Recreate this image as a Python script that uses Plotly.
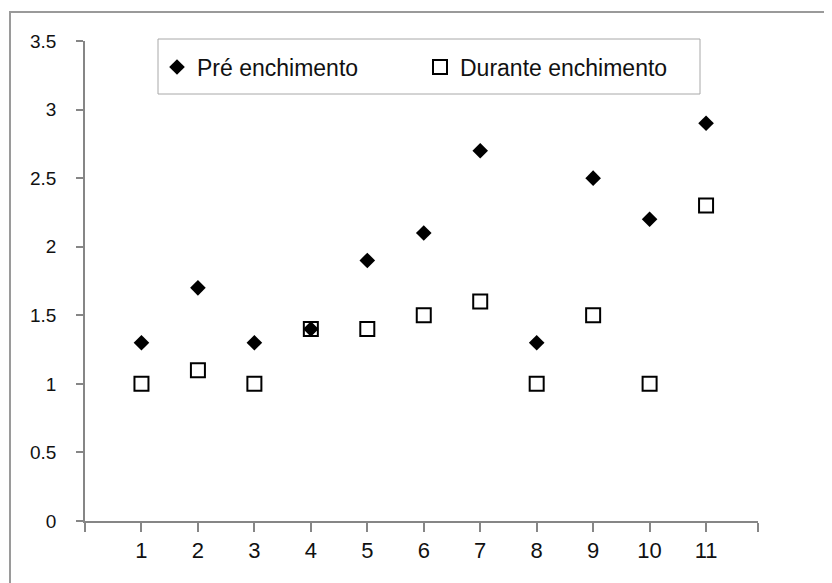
import plotly.graph_objects as go

x_vals = [1, 2, 3, 4, 5, 6, 7, 8, 9, 10, 11]
pre_enchimento = [1.3, 1.7, 1.3, 1.4, 1.9, 2.1, 2.7, 1.3, 2.5, 2.2, 2.9]
durante_enchimento = [1.0, 1.1, 1.0, 1.4, 1.4, 1.5, 1.6, 1.0, 1.5, 1.0, 2.3]
x_max = 11.92
x_tickvals = [0, 1, 2, 3, 4, 5, 6, 7, 8, 9, 10, 11, x_max]
x_ticktext = ["", "1", "2", "3", "4", "5", "6", "7", "8", "9", "10", "11", ""]
y_tickvals = [0, 0.5, 1, 1.5, 2, 2.5, 3, 3.5]
y_ticktext = ["0", "0.5", "1", "1.5", "2", "2.5", "3", "3.5"]

# page has an 8px body margin, so the figure is drawn 8px right/down
OFF = 8
W, H = 832 - OFF, 583 - OFF
PX0, PX1, PY0, PY1 = 85, 758, 41, 521  # plot area in screen pixels
L, T = PX0 - OFF, PY0 - OFF
pw, ph = PX1 - PX0, PY1 - PY0
R, B = W - L - pw, H - T - ph


def px(xs):
    return (xs - PX0) / pw


def py(ys):
    return (PY1 - ys) / ph


FONT = "Arial, Liberation Sans, sans-serif"
TXT = "#111111"

fig = go.Figure()
fig.add_trace(go.Scatter(
    x=x_vals, y=pre_enchimento, mode="markers", name="Pré enchimento",
    marker=dict(symbol="diamond", size=12, color="black", line=dict(width=0)),
))
fig.add_trace(go.Scatter(
    x=x_vals, y=durante_enchimento, mode="markers", name="Durante enchimento",
    marker=dict(symbol="square-open", size=14, color="black", line=dict(width=2, color="black")),
))

border_path = "M {a},{b} L {a},{c} L {d},{c}".format(
    a=px(10), b=py(650), c=py(12), d=px(900))

fig.update_layout(
    width=W, height=H,
    margin=dict(l=L, r=R, t=T, b=B, autoexpand=False),
    paper_bgcolor="white", plot_bgcolor="white",
    font=dict(family=FONT, color=TXT),
    showlegend=True,
    legend=dict(
        orientation="h", x=px(157), y=py(67), xanchor="left", yanchor="middle",
        font=dict(family=FONT, size=23, color=TXT),
        bgcolor="rgba(0,0,0,0)", borderwidth=0,
        entrywidth=218, entrywidthmode="pixels",
    ),
    xaxis=dict(
        range=[0, x_max], tickmode="array", tickvals=x_tickvals, ticktext=x_ticktext,
        showgrid=False, zeroline=False, showline=True, linecolor="#868686", linewidth=1.5,
        ticks="outside", ticklen=9, tickcolor="#868686", tickwidth=1.5,
        tickfont=dict(family=FONT, size=22, color=TXT), ticklabelstandoff=0,
        fixedrange=True,
    ),
    yaxis=dict(
        range=[0, 3.5], tickmode="array", tickvals=y_tickvals, ticktext=y_ticktext,
        showgrid=False, zeroline=False, showline=True, linecolor="#868686", linewidth=1.5,
        ticks="outside", ticklen=7, tickcolor="#868686", tickwidth=1.5,
        tickfont=dict(family=FONT, size=19, color=TXT), ticklabelstandoff=16,
        fixedrange=True,
    ),
    shapes=[
        dict(type="path", xref="paper", yref="paper", path=border_path,
             line=dict(color="#9a9a9a", width=2)),
        dict(type="rect", xref="paper", yref="paper",
             x0=px(158), x1=px(700), y0=py(94), y1=py(39),
             line=dict(color="#a8a8a8", width=1), fillcolor="rgba(0,0,0,0)"),
    ],
)

fig.write_html("out.html")
